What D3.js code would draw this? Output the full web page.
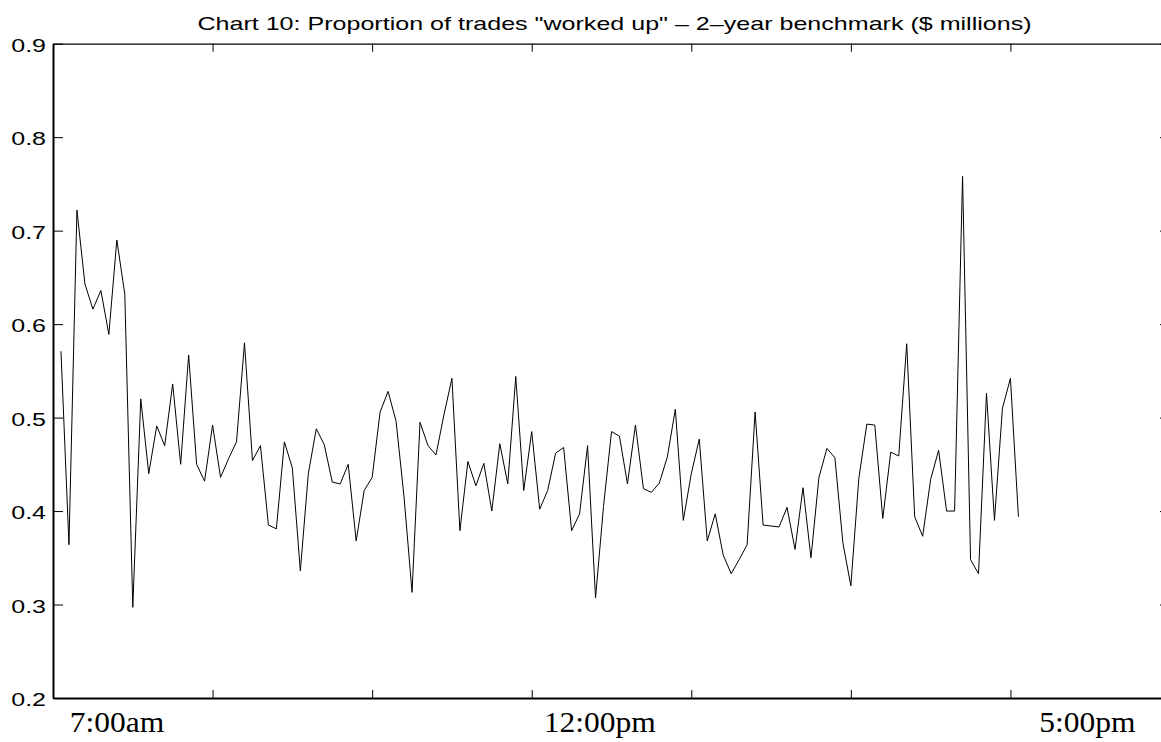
<!DOCTYPE html>
<html>
<head>
<meta charset="utf-8">
<script src="https://cdn.jsdelivr.net/npm/d3@7"></script>
<style>
  html, body { margin: 0; padding: 0; background: #fff; }
  svg { display: block; }
</style>
</head>
<body>
<svg id="chart" width="1161" height="742"></svg>
<script>
// Proportion of trades "worked up", one value per interval through the trading day
const proportion = [
  0.571, 0.364, 0.722, 0.643, 0.616, 0.636, 0.589, 0.690, 0.632, 0.297,
  0.520, 0.440, 0.491, 0.470, 0.536, 0.450, 0.567, 0.450, 0.432, 0.492,
  0.436, 0.456, 0.474, 0.580, 0.454, 0.470, 0.385, 0.381, 0.474, 0.446,
  0.336, 0.440, 0.488, 0.471, 0.431, 0.429, 0.450, 0.368, 0.422, 0.436,
  0.506, 0.528, 0.496, 0.415, 0.313, 0.495, 0.470, 0.460, 0.503, 0.542,
  0.379, 0.453, 0.427, 0.451, 0.400, 0.472, 0.429, 0.544, 0.422, 0.485,
  0.402, 0.422, 0.462, 0.468, 0.379, 0.397, 0.470, 0.307, 0.405, 0.485,
  0.480, 0.429, 0.492, 0.424, 0.420, 0.430, 0.458, 0.509, 0.390, 0.440,
  0.477, 0.368, 0.397, 0.353, 0.333, 0.348, 0.364, 0.506, 0.385, 0.384,
  0.383, 0.404, 0.359, 0.425, 0.350, 0.436, 0.467, 0.457, 0.366, 0.320,
  0.435, 0.493, 0.492, 0.392, 0.463, 0.459, 0.579, 0.394, 0.373, 0.434,
  0.465, 0.400, 0.400, 0.758, 0.348, 0.333, 0.526, 0.390, 0.510, 0.542,
  0.394
];

// Observation index along the day (1..n)
const obsIndex = proportion.map((_, i) => i + 1);

const yTicks = [0.2, 0.3, 0.4, 0.5, 0.6, 0.7, 0.8, 0.9];
const yTickLabels = ["0.2", "0.3", "0.4", "0.5", "0.6", "0.7", "0.8", "0.9"];
const xTicks = [0, 20, 40, 60, 80, 100, 120, 140];

// Clock-time captions and where they sit along the index axis
const timeLabels = ["7:00am", "12:00pm", "5:00pm"];
const timeLabelAt = [2.1, 61.5, 123.6];

const titleText = 'Chart 10: Proportion of trades "worked up" \u2013 2\u2013year benchmark ($ millions)';

const svg = d3.select("#chart");

const x = d3.scaleLinear().domain([0, 140]).range([53, 1170]);
const y = d3.scaleLinear().domain([0.2, 0.9]).range([698, 43.7]);

// Title
svg.append("text")
  .attr("transform", "translate(614.5,29.5) scale(1.32,1)")
  .attr("text-anchor", "middle")
  .attr("font-family", "'Liberation Sans', Arial, Helvetica, sans-serif")
  .attr("font-size", 19)
  .attr("fill", "#000")
  .text(titleText);

// Axes frame: ticks point into the plot area
const axisStyle = g => {
  g.selectAll("path.domain").attr("stroke", "#000");
  g.selectAll(".tick line").attr("stroke", "#000").attr("stroke-width", 1);
  g.selectAll(".tick text").remove();
};

svg.append("g")
  .attr("transform", `translate(0,${y(0.2)})`)
  .call(d3.axisBottom(x).tickValues(xTicks).tickSize(-8).tickSizeOuter(0).tickFormat(""))
  .call(axisStyle)
  .select("path.domain").attr("stroke-width", 2);

svg.append("g")
  .attr("transform", `translate(0,${y(0.9)})`)
  .call(d3.axisTop(x).tickValues(xTicks).tickSize(-8).tickSizeOuter(0).tickFormat(""))
  .call(axisStyle)
  .select("path.domain").attr("stroke-width", 1.3);

svg.append("g")
  .attr("transform", `translate(${x(0)},0)`)
  .call(d3.axisLeft(y).tickValues(yTicks).tickSize(-10).tickSizeOuter(0).tickFormat(""))
  .call(axisStyle)
  .select("path.domain").attr("stroke-width", 2);

svg.append("g")
  .attr("transform", `translate(${x(140)},0)`)
  .call(d3.axisRight(y).tickValues(yTicks).tickSize(-10).tickSizeOuter(0).tickFormat(""))
  .call(axisStyle)
  .select("path.domain").attr("stroke-width", 1.3);

// Y tick labels
svg.append("g")
  .selectAll("text")
  .data(yTicks)
  .join("text")
  .attr("transform", d => `translate(46,${y(d) + 8}) scale(1.43,1)`)
  .attr("text-anchor", "end")
  .attr("font-family", "'Liberation Sans', Arial, Helvetica, sans-serif")
  .attr("font-size", 17.5)
  .attr("fill", "#000")
  .text((d, i) => yTickLabels[i]);

// Clock-time captions under the axis
svg.append("g")
  .selectAll("text")
  .data(timeLabels)
  .join("text")
  .attr("transform", (d, i) => `translate(${x(timeLabelAt[i])},731.7) scale(1.05,1)`)
  .attr("text-anchor", "start")
  .attr("font-family", "'Liberation Serif', 'Times New Roman', Times, serif")
  .attr("font-size", 30)
  .attr("fill", "#000")
  .text(d => d);

// Series line
const line = d3.line()
  .x((d, i) => x(obsIndex[i]))
  .y(d => y(d));

svg.append("path")
  .datum(proportion)
  .attr("d", line)
  .attr("fill", "none")
  .attr("stroke", "#000")
  .attr("stroke-width", 1)
  .attr("stroke-linejoin", "miter");
</script>
</body>
</html>
